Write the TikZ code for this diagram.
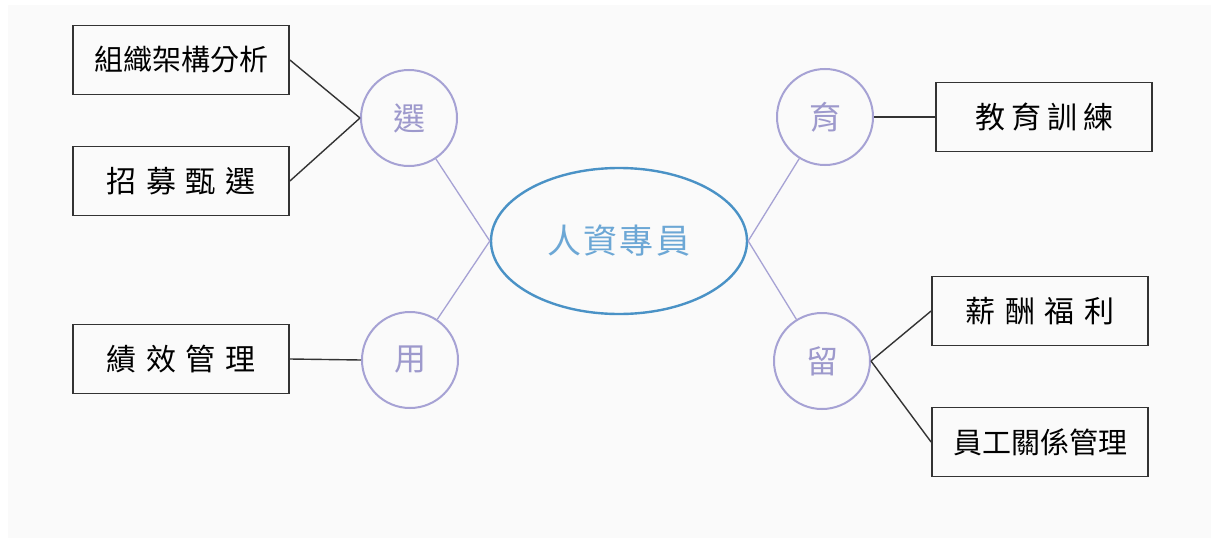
\documentclass[tikz,border=0pt]{standalone}
\usepackage{fontspec}
\newfontfamily\cjk{Noto Sans CJK TC}
\usetikzlibrary{shapes.geometric}
\definecolor{mapbg}{HTML}{FAFAFA}
\definecolor{mapline}{HTML}{333333}
\definecolor{maplav}{HTML}{A6A2D4}
\definecolor{maplavtext}{HTML}{9D99CC}
\definecolor{mapblue}{HTML}{4A92C6}
\definecolor{mapbluetext}{HTML}{6CA7D5}

\begin{document}
\begin{tikzpicture}[x=1pt, y=-1pt,
    topic/.style={ellipse, draw=mapblue, line width=2.4pt, minimum width=256pt, minimum height=146pt, inner sep=0pt, text=mapbluetext, font=\cjk\fontsize{34}{34}\selectfont\addfontfeature{LetterSpace=6}},
    stage/.style={circle, draw=maplav, line width=2pt, minimum size=96pt, inner sep=0pt, text=maplavtext, font=\cjk\fontsize{32}{32}\selectfont},
    task/.style={draw=mapline, line width=1.8pt, minimum width=216pt, minimum height=69pt, inner sep=0pt, font=\cjk\fontsize{29}{29}\selectfont},
    wide/.style={task, font=\cjk\fontsize{30}{30}\selectfont\addfontfeature{LetterSpace=33}},
    link/.style={draw=maplav, line width=1.3pt},
    leg/.style={draw=mapline, line width=1.4pt},
]
    \useasboundingbox (0,0) rectangle (1211,538);
    \fill[white] (0,0) rectangle (1211,538);
    \fill[mapbg] (8,5) rectangle (1211,538);

    % centre and the four stages
    \node[topic] (hr) at (619,241) {人資專員};
    \node[stage] (sel) at (409,118) {選};
    \node[stage] (use) at (410,360) {用};
    \node[stage] (edu) at (825,117) {育};
    \node[stage] (keep) at (822,361) {留};

    % tasks
    \node[task] (org) at (181,60) {組織架構分析};
    \node[wide] (hire) at (181,181) {招募甄選};
    \node[wide] (perf) at (181,359) {績效管理};
    \node[wide, font=\cjk\fontsize{30}{30}\selectfont\addfontfeature{LetterSpace=20}] (train) at (1044,117) {教育訓練};
    \node[wide] (pay) at (1040,311) {薪酬福利};
    \node[task] (rel) at (1040,442) {員工關係管理};

    \draw[link] (hr.west) -- (sel);
    \draw[link] (hr.west) -- (use);
    \draw[link] (hr.east) -- (edu);
    \draw[link] (hr.east) -- (keep);

    \draw[leg] (org.east) -- (sel.west);
    \draw[leg] (hire.east) -- (sel.west);
    \draw[leg] (perf.east) -- (use.west);
    \draw[leg] (edu.east) -- (train.west);
    \draw[leg] (keep.east) -- (pay.west);
    \draw[leg] (keep.east) -- (rel.west);
\end{tikzpicture}
\end{document}
